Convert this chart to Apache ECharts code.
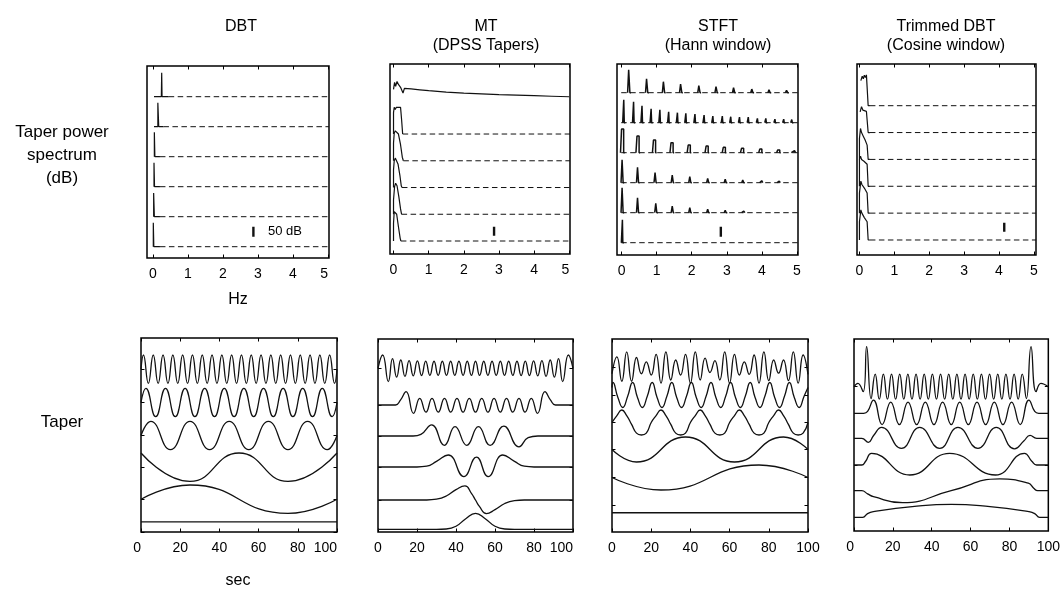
<!DOCTYPE html>
<html><head><meta charset="utf-8">
<script src="https://cdn.jsdelivr.net/npm/echarts@6/dist/echarts.min.js"></script>
<style>html,body{margin:0;padding:0;background:#fff}#c{width:1063px;height:596px}</style>
</head><body><div id="c"></div>
<script>
// ================= DATA =================
const freqTicks = [0, 1, 2, 3, 4, 5];
const timeTicks = [0, 20, 40, 60, 80, 100];
const columnTitles = [['DBT'], ['MT', '(DPSS Tapers)'], ['STFT', '(Hann window)'], ['Trimmed DBT', '(Cosine window)']];
const spectrumLabel = ['Taper power', 'spectrum', '(dB)'];
const taperLabel = 'Taper';
const freqUnit = 'Hz';
const timeUnit = 'sec';
const scaleBarDb = 50;
const scaleBarText = '50 dB';

// --- Top row: taper power spectra, [Hz, dB above the trace's floor]
const dbtSpec1 = [[0.03,0],[0.24,0],[0.25,120],[0.26,0],[0.45,0]];
const dbtSpec2 = [[0.03,0],[0.14,0],[0.14,120],[0.165,120],[0.165,0],[0.3,0]];
const dbtSpec3 = [[0.04,0],[0.04,122],[0.055,0],[0.2,0]];
const dbtSpec4 = [[0.03,0],[0.03,120],[0.045,0],[0.2,0]];
const dbtSpec5 = [[0.02,0],[0.02,118],[0.04,118],[0.04,0],[0.2,0]];
const dbtSpec6 = [[0.01,0],[0.01,120],[0.025,0],[0.2,0]];

const mtSpec1 = [[0,100],[0.03,140],[0.06,118],[0.1,145],[0.14,128],[0.2,112],[0.27,80],[0.31,106],[0.5,103],[0.75,98],[1,93],[1.5,85],[2,79],[2.5,75],[3,71],[3.5,68],[4,65],[4.5,62],[5,59]];
const mtSpec2 = [[0,0],[0,120],[0.02,150],[0.05,138],[0.08,150],[0.13,148],[0.2,150],[0.23,80],[0.26,0]];
const mtSpec3 = [[0,0],[0,100],[0.02,155],[0.05,168],[0.1,166],[0.14,150],[0.2,90],[0.25,20],[0.28,0]];
const mtSpec4 = [[0,0],[0,100],[0.02,150],[0.05,165],[0.09,160],[0.13,130],[0.18,70],[0.22,10],[0.24,0]];
const mtSpec5 = [[0,0],[0,80],[0.03,155],[0.06,174],[0.1,160],[0.15,100],[0.2,30],[0.23,0]];
const mtSpec6 = [[0,0],[0,100],[0.02,165],[0.05,174],[0.09,150],[0.14,80],[0.19,15],[0.21,0]];

// STFT spectra: spectral lobes as [centre Hz, peak dB above floor]
const stftLobes1 = [[0.22,115],[0.73,70],[1.21,55],[1.70,43],[2.22,35],[2.71,30],[3.21,25],[3.73,18],[4.22,15],[4.72,12]];
const stftLobes2 = [[0.07,115],[0.35,105],[0.59,85],[0.85,70],[1.10,65],[1.35,55],[1.60,50],[1.84,47],[2.10,43],[2.36,38],[2.61,33],[2.88,33],[3.12,30],[3.37,28],[3.62,28],[3.88,22],[4.12,22],[4.38,18],[4.63,18],[4.86,16]];
const stftLobes3 = [[0.03,118],[0.47,83],[0.94,63],[1.44,50],[1.93,38],[2.44,33],[2.93,27],[3.45,22],[3.97,18],[4.48,13],[4.9,10]];
const stftLobes4 = [[0.03,115],[0.47,77],[0.97,50],[1.46,38],[1.96,30],[2.47,22],[2.97,18],[3.47,13],[3.98,10],[4.48,8]];
const stftLobes5 = [[0.03,125],[0.47,75],[0.99,47],[1.46,33],[1.96,25],[2.47,17],[2.97,12],[3.47,8]];
const stftLobes6 = [[0.03,115]];

const trimSpec1 = [[0.04,140],[0.08,165],[0.11,150],[0.14,170],[0.17,158],[0.2,172],[0.23,162],[0.25,168],[0.25,0],[0.3,0]];
const trimSpec2 = [[0.02,115],[0.06,145],[0.1,125],[0.15,120],[0.2,118],[0.25,118],[0.25,0],[0.3,0]];
const trimSpec3 = [[0,0],[0,117],[0.03,173],[0.06,150],[0.08,160],[0.11,130],[0.13,140],[0.16,110],[0.19,100],[0.22,80],[0.25,78],[0.25,0],[0.3,0]];
const trimSpec4 = [[0,0],[0,150],[0.03,168],[0.06,150],[0.1,160],[0.13,140],[0.17,135],[0.22,123],[0.25,123],[0.25,0],[0.3,0]];
const trimSpec5 = [[0,0],[0,112],[0.04,179],[0.07,160],[0.1,165],[0.14,140],[0.18,130],[0.22,112],[0.25,112],[0.25,0],[0.3,0]];
const trimSpec6 = [[0,0],[0,102],[0.04,168],[0.07,150],[0.1,140],[0.14,125],[0.18,115],[0.22,102],[0.25,102],[0.25,0],[0.3,0]];

// --- Bottom row: tapers, [sec, normalised amplitude] (extrema)
const dbtTaper1 = [[0,0],[1.25,1],[3.75,-1],[6.25,1],[8.75,-1],[11.25,1],[13.75,-1],[16.25,1],[18.75,-1],[21.25,1],[23.75,-1],[26.25,1],[28.75,-1],[31.25,1],[33.75,-1],[36.25,1],[38.75,-1],[41.25,1],[43.75,-1],[46.25,1],[48.75,-1],[51.25,1],[53.75,-1],[56.25,1],[58.75,-1],[61.25,1],[63.75,-1],[66.25,1],[68.75,-1],[71.25,1],[73.75,-1],[76.25,1],[78.75,-1],[81.25,1],[83.75,-1],[86.25,1],[88.75,-1],[91.25,1],[93.75,-1],[96.25,1],[98.75,-1],[100,0]];
const dbtTaper2 = [[0,0],[2.5,1],[7.5,-1],[12.5,1],[17.5,-1],[22.5,1],[27.5,-1],[32.5,1],[37.5,-1],[42.5,1],[47.5,-1],[52.5,1],[57.5,-1],[62.5,1],[67.5,-1],[72.5,1],[77.5,-1],[82.5,1],[87.5,-1],[92.5,1],[97.5,-1],[100,0]];
const dbtTaper3 = [[0,0],[5,1],[15,-1],[25,1],[35,-1],[45,1],[55,-1],[65,1],[75,-1],[85,1],[95,-1],[100,0]];
const dbtTaper4 = [[0,1],[25,-1],[50,1],[75,-1],[100,1]];
const dbtTaper5 = [[0,0],[25,1],[75,-1],[100,0]];
const dbtTaper6 = [[0,0.72],[100,0.72]];

const mtTaper1 = [[0,0],[2.4,0.83],[5.3,-0.83],[7.43,0.6],[9.56,-0.55],[11.69,0.52],[13.82,-0.5],[15.95,0.48],[18.08,-0.47],[20.21,0.46],[22.34,-0.45],[24.47,0.45],[26.6,-0.44],[28.73,0.44],[30.86,-0.44],[32.99,0.44],[35.12,-0.44],[37.25,0.44],[39.38,-0.44],[41.51,0.44],[43.64,-0.44],[45.77,0.44],[47.9,-0.44],[50,0.44],[52.1,-0.44],[54.23,0.44],[56.36,-0.44],[58.49,0.44],[60.62,-0.44],[62.75,0.44],[64.88,-0.44],[67.01,0.44],[69.14,-0.44],[71.27,0.44],[73.4,-0.45],[75.53,0.45],[77.66,-0.45],[79.79,0.46],[81.92,-0.47],[84.05,0.48],[86.18,-0.5],[88.31,0.52],[90.44,-0.55],[92.57,0.6],[94.7,-0.83],[97.6,0.83],[100,0]];
const mtTaper2 = [[0,0],[9,0],[11.5,0.3],[14.4,0.83],[18.2,-0.52],[21.4,0.42],[24.6,-0.45],[27.7,0.42],[30.9,-0.45],[34.1,0.42],[37.3,-0.45],[40.5,0.42],[43.6,-0.45],[46.8,0.42],[50,-0.45],[53.2,0.42],[56.4,-0.45],[59.5,0.42],[62.7,-0.45],[65.9,0.42],[69.1,-0.45],[72.3,0.42],[75.4,-0.45],[78.6,0.42],[81.8,-0.52],[85.6,0.83],[88.5,0.3],[91,0],[100,0]];
const mtTaper3 = [[0,0],[18,0],[22,0.1],[27.5,0.7],[34,-0.58],[39.5,0.58],[45.5,-0.58],[51.5,0.58],[57.5,-0.58],[64.5,0.62],[72.3,-0.68],[77,-0.1],[82,0],[100,0]];
const mtTaper4 = [[0,0],[20,0],[25,0.05],[30,0.35],[36,0.75],[44,-0.6],[50.5,0.62],[56.5,-0.6],[64,0.75],[70,0.35],[75,0.05],[80,0],[100,0]];
const mtTaper5 = [[0,0],[25,0],[30,0.05],[35,0.25],[40,0.65],[44.6,0.88],[48,0.4],[50,0],[52,-0.4],[55.6,-0.85],[60,-0.6],[65,-0.22],[70,-0.04],[75,0],[100,0]];
const mtTaper6 = [[0,0],[30,0],[35,0.02],[40,0.19],[45,0.66],[50,1],[55,0.66],[60,0.19],[65,0.02],[70,0],[100,0]];

const stftTaper1 = [[0,-0.5],[2.5,0.85],[5,-1.1],[7.5,1.25],[10,-1.1],[12.5,0.8],[15,-0.5],[17.5,0.45],[20,-0.6],[22.5,1.05],[25,-1.25],[27.5,1.25],[30,-1],[32.5,0.6],[35,-0.6],[37.5,1.05],[40,-1.25],[42.5,1.25],[45,-1],[47.5,0.75],[50,-0.4],[52.5,0.55],[55,-1],[57.5,1.25],[60,-1.25],[62.5,1.05],[65,-0.6],[67.5,0.45],[70,-0.55],[72.5,1],[75,-1.25],[77.5,1.25],[80,-1.05],[82.5,0.6],[85,-0.45],[87.5,0.6],[90,-1.05],[92.5,1.25],[95,-1.25],[97.5,1],[100,-0.55]];
const stftTaper2 = [[0,0.6],[0.5,1],[3,-0.2],[5.5,-1],[8,-0.1],[10.5,1],[13,-0.2],[15.5,-1],[18,-0.1],[20.5,1],[23,-0.2],[25.5,-1],[28,-0.1],[30.5,1],[33,-0.2],[35.5,-1],[38,-0.1],[40.5,1],[43,-0.2],[45.5,-1],[48,-0.1],[50.5,1],[53,-0.2],[55.5,-1],[58,-0.1],[60.5,1],[63,-0.2],[65.5,-1],[68,-0.1],[70.5,1],[73,-0.2],[75.5,-1],[78,-0.1],[80.5,1],[83,-0.2],[85.5,-1],[88,-0.1],[90.5,1],[93,-0.2],[95.5,-1],[98,-0.1],[100,0.6]];
const stftTaper3 = [[0,0],[2.5,0.55],[5,1],[7.5,0.55],[10,-0.15],[12.5,-0.85],[15,-1],[17.5,-0.85],[20,0],[22.5,0.55],[25,1],[27.5,0.55],[30,-0.15],[32.5,-0.85],[35,-1],[37.5,-0.85],[40,0],[42.5,0.55],[45,1],[47.5,0.55],[50,-0.15],[52.5,-0.85],[55,-1],[57.5,-0.85],[60,0],[62.5,0.55],[65,1],[67.5,0.55],[70,-0.15],[72.5,-0.85],[75,-1],[77.5,-0.85],[80,0],[82.5,0.55],[85,1],[87.5,0.55],[90,-0.15],[92.5,-0.85],[95,-1],[97.5,-0.85],[100,0]];
const stftTaper4 = [[0,0],[12.5,-1],[37.5,1],[62.5,-1],[87.5,1],[100,0]];
const stftTaper5 = [[0,0],[25,-1],[75,1],[100,0]];
const stftTaper6 = [[0,-0.62],[100,-0.62]];

const trimTaper1 = [[0,0],[2,0.27],[4.7,-0.4],[6.5,3.2],[8.8,-0.95],[10.9,1],[13.01,-1],[15.11,1],[17.21,-1],[19.31,1],[21.42,-1],[23.52,1],[25.62,-1],[27.72,1],[29.83,-1],[31.93,1],[34.03,-1],[36.13,1],[38.24,-1],[40.34,1],[42.44,-1],[44.54,1],[46.65,-1],[48.75,1],[50.85,-1],[52.95,1],[55.06,-1],[57.16,1],[59.26,-1],[61.36,1],[63.47,-1],[65.57,1],[67.67,-1],[69.77,1],[71.88,-1],[73.98,1],[76.08,-1],[78.18,1],[80.29,-1],[82.39,1],[84.49,-1],[86.59,1],[88.7,-0.95],[91.1,3.2],[93.7,-0.4],[96.2,0.27],[100,0]];
const trimTaper2 = [[0,0],[5,0],[7,0.15],[10,1.06],[14.45,-0.9],[18.9,0.9],[23.35,-0.9],[27.8,0.9],[32.25,-0.9],[36.7,0.9],[41.15,-0.9],[45.6,0.9],[50.05,-0.9],[54.4,0.9],[58.85,-0.9],[63.3,0.9],[67.75,-0.9],[72.2,0.9],[76.65,-0.9],[81.1,0.9],[85.55,-0.9],[90,1.06],[93,0.15],[95,0],[100,0]];
const trimTaper3 = [[0,0],[4,0],[7.4,-0.32],[10,0.2],[14.2,0.88],[24.4,-0.8],[33.8,0.88],[44.1,-0.8],[53.5,0.88],[63.8,-0.8],[73.2,0.88],[82.6,-0.85],[87.5,-0.2],[90.6,0.24],[94,0],[100,0]];
const trimTaper4 = [[0,0],[4,0],[6,0.3],[9,0.93],[28.7,-0.8],[49.2,0.93],[72.8,-0.8],[87.7,0.93],[91.5,0.3],[94,0],[100,0]];
const trimTaper5 = [[0,0],[4,0],[7,-0.25],[10,-0.48],[25,-0.96],[50,0],[75,0.94],[89.7,0.6],[92.5,0.2],[94.5,0],[100,0]];
const trimTaper6 = [[0,0],[4.5,0],[7,0.3],[10,0.45],[30,0.85],[50,1.04],[70,0.85],[90,0.45],[93,0.3],[95.5,0],[100,0]];

// ================= LAYOUT / STYLE =================
const TRACE_DB = 150;           // vertical offset between stacked spectra (dB)
const INK = '#111';
const TICK_FONT = '"Liberation Sans", Arial, sans-serif';
const TEXT_FONT = '"Liberation Sans", Arial, sans-serif';

const topPanels = [
  { grid:{left:147, top:66, width:182, height:192}, x:[-0.17,5.03], y:[-806.5,153.5], kind:'line', align:['center','right'],
    traces:[dbtSpec1,dbtSpec2,dbtSpec3,dbtSpec4,dbtSpec5,dbtSpec6], floor:[true,true,true,true,true,true], bar:[2.87,-700] },
  { grid:{left:390, top:64, width:180, height:190}, x:[-0.1,5.02], y:[-822.9,242.8], kind:'line', align:['center','right'],
    traces:[mtSpec1,mtSpec2,mtSpec3,mtSpec4,mtSpec5,mtSpec6], floor:[false,true,true,true,true,true], bar:[2.86,-720] },
  { grid:{left:617, top:64, width:181, height:191}, x:[-0.13,5.03], y:[-811.5,143.5], kind:'lobes', align:['center','center'],
    traces:[stftLobes1,stftLobes2,stftLobes3,stftLobes4,stftLobes5,stftLobes6], lobeW:[0.035,0.015,0.06,0.03,0.03,0.012], floor:[true,true,true,true,true,true], bar:[2.83,-720] },
  { grid:{left:857, top:64, width:179, height:191}, x:[-0.07,5.06], y:[-833.8,232.9], kind:'line', align:['center','center'],
    traces:[trimSpec1,trimSpec2,trimSpec3,trimSpec4,trimSpec5,trimSpec6], floor:[true,true,true,true,true,true], bar:[4.15,-704] }
];
const bottomPanels = [
  { grid:{left:141, top:338, width:196, height:194}, centers:[369.2,402.5,435.5,467.2,499.2,532], gain:14.2, align:['right','right'],
    traces:[dbtTaper1,dbtTaper2,dbtTaper3,dbtTaper4,dbtTaper5,dbtTaper6] },
  { grid:{left:378, top:339, width:195, height:193}, centers:[368.3,405,436,467,500,529.3], gain:16, align:['center','right'],
    traces:[mtTaper1,mtTaper2,mtTaper3,mtTaper4,mtTaper5,mtTaper6] },
  { grid:{left:612, top:339, width:196, height:193}, centers:[367.5,395,422.5,449.5,477.5,505], gain:12.5, align:['center','center'],
    traces:[stftTaper1,stftTaper2,stftTaper3,stftTaper4,stftTaper5,stftTaper6] },
  { grid:{left:854, top:339, width:195, height:192}, centers:[386.7,413.3,438.3,465,490.7,517.3], gain:12.5, align:['right','center'],
    traces:[trimTaper1,trimTaper2,trimTaper3,trimTaper4,trimTaper5,trimTaper6] }
];

// ================= BUILD =================
const grids = [], xAxes = [], yAxes = [], series = [];
function addAxes(p, xr, yr, xt, yt) {
  const gi = grids.length;
  grids.push(Object.assign({show:true, borderColor:'#000', borderWidth:1.5, backgroundColor:'transparent', containLabel:false}, p.grid));
  const tick = (vals) => ({show: vals.length > 0, inside:true, length:3.5, customValues: vals, lineStyle:{color:'#000', width:1}});
  const line = {show:false, onZero:false};
  xAxes.push({type:'value', gridIndex:gi, position:'bottom', min:xr[0], max:xr[1], splitLine:{show:false},
    axisLine:line, axisTick:tick(xt),
    axisLabel:{show:true, customValues:xt, color:'#000', fontSize:14, fontFamily:TICK_FONT, margin:9,
      alignMinLabel:p.align[0], alignMaxLabel:p.align[1]}});
  xAxes.push({type:'value', gridIndex:gi, position:'top', min:xr[0], max:xr[1], splitLine:{show:false},
    axisLine:line, axisTick:tick(xt), axisLabel:{show:false}});
  yAxes.push({type:'value', gridIndex:gi, position:'left', min:yr[0], max:yr[1], splitLine:{show:false},
    axisLine:line, axisTick:tick(yt), axisLabel:{show:false}});
  yAxes.push({type:'value', gridIndex:gi, position:'right', min:yr[0], max:yr[1], splitLine:{show:false},
    axisLine:line, axisTick:tick(yt), axisLabel:{show:false}});
  return gi;
}
function lineSeries(gi, data, extra) {
  return Object.assign({type:'line', xAxisIndex:2*gi, yAxisIndex:2*gi, data:data, symbol:'none', showSymbol:false,
    silent:true, animation:false, connectNulls:false, clip:true,
    lineStyle:{color:INK, width:1.2}}, extra || {});
}

topPanels.forEach(p => {
  const gi = addAxes(p, p.x, p.y, freqTicks, []);
  p.traces.forEach((tr, k) => {
    const off = -TRACE_DB * k;
    let pts, lw = 1.2;
    if (p.kind === 'lobes') {
      pts = [];
      lw = 1.5;
      const w = p.lobeW[k];
      tr.forEach(([c, h]) => {
        pts.push([c - w/2 - 0.03, off], [c - w/2, off], [c - w/2, off + h], [c + w/2, off + h], [c + w/2, off], [c + w/2 + 0.03, off], [c + w/2 + 0.031, null]);
      });
      series.push(lineSeries(gi, [[p.x[0] + 0.12, off], [p.x[1], off]], {lineStyle:{color:INK, width:1, type:[5.5,3.5]}}));
    } else {
      pts = tr.map(([f, d]) => [f, off + d]);
      if (p.floor[k]) {
        const last = tr[tr.length - 1][0];
        series.push(lineSeries(gi, [[last, off], [p.x[1], off]], {lineStyle:{color:INK, width:1, type:[5.5,3.5]}}));
      }
    }
    series.push(lineSeries(gi, pts, {lineStyle:{color:INK, width:lw}}));
  });
  series.push(lineSeries(gi, [[p.bar[0], p.bar[1]], [p.bar[0], p.bar[1] + scaleBarDb]], {lineStyle:{color:INK, width:2.4}}));
});

bottomPanels.forEach(p => {
  const yr = [-(p.grid.top + p.grid.height), -p.grid.top];
  const gi = addAxes(p, [0, 100], yr, timeTicks, p.centers.map(c => -c));
  p.traces.forEach((tr, k) => {
    const base = -p.centers[k];
    series.push(lineSeries(gi, tr.map(([t, v]) => [t, base + p.gain * v]), {smooth:0.5, lineStyle:{color:INK, width:1.3}}));
  });
});

// text
const graphics = [];
function txt(s, x, y, size, align) {
  graphics.push({type:'text', x:x, y:y, silent:true, style:{text:s, fill:'#000', font: size + 'px ' + TEXT_FONT, textAlign: align || 'center', textVerticalAlign:'middle'}});
}
const titleX = [241, 486, 718, 946];
columnTitles.forEach((lines, i) => lines.forEach((s, j) => txt(s, titleX[i], 27 + j * 19, 16)));
spectrumLabel.forEach((s, j) => txt(s, 62, 132 + j * 23, 17));
txt(taperLabel, 62, 422, 17);
txt(freqUnit, 238, 300, 16);
txt(timeUnit, 238, 581, 16);
txt(scaleBarText, 268, 231.5, 13, 'left');

const chart = echarts.init(document.getElementById('c'), null, {renderer:'canvas', width:1063, height:596});
chart.setOption({animation:false, backgroundColor:'#fff', grid:grids, xAxis:xAxes, yAxis:yAxes, series:series, graphic:graphics});
</script></body></html>
